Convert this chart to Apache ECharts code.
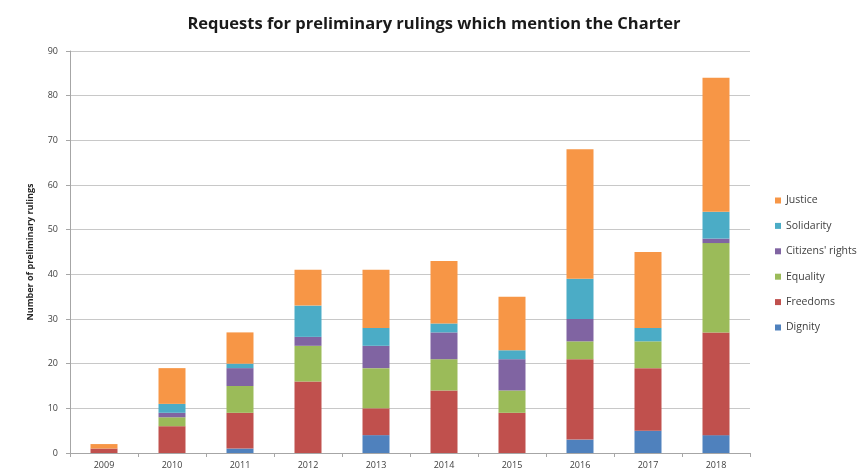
<!DOCTYPE html>
<html>
<head>
<meta charset="utf-8">
<script src="https://cdn.jsdelivr.net/npm/echarts@6/dist/echarts.min.js"></script>
<style>html,body{margin:0;padding:0;background:#fff}#c{width:868px;height:475px}</style>
</head>
<body>
<div id="c"></div>
<script>
const years = ['2009','2010','2011','2012','2013','2014','2015','2016','2017','2018'];
const dignity    = [0, 0, 1, 0, 4, 0, 0, 3, 5, 4];
const freedoms   = [1, 6, 8, 16, 6, 14, 9, 18, 14, 23];
const equality   = [0, 2, 6, 8, 9, 7, 5, 4, 6, 20];
const citizens   = [0, 1, 4, 2, 5, 6, 7, 5, 0, 1];
const solidarity = [0, 2, 1, 7, 4, 2, 2, 9, 3, 6];
const justice    = [1, 8, 7, 8, 13, 14, 12, 29, 17, 30];
const yTicks = [0, 10, 20, 30, 40, 50, 60, 70, 80, 90];

const seriesDefs = [
  ['Dignity', dignity, '#4F81BD'],
  ['Freedoms', freedoms, '#C0504D'],
  ['Equality', equality, '#9BBB59'],
  ["Citizens' rights", citizens, '#8064A2'],
  ['Solidarity', solidarity, '#4BACC6'],
  ['Justice', justice, '#F79646']
];

const chart = echarts.init(document.getElementById('c'));
chart.setOption({
  animation: false,
  backgroundColor: '#fff',
  title: {
    text: 'Requests for preliminary rulings which mention the Charter',
    left: 'center', top: 11,
    textStyle: {fontFamily: 'Open Sans', fontSize: 16.5, fontWeight: 'bold', color: '#1a1a1a'}
  },
  legend: {
    orient: 'vertical', left: 770, top: 190,
    itemWidth: 6, itemHeight: 6, itemGap: 14.4,
    data: seriesDefs.map(s => s[0]).reverse(),
    icon: 'rect',
    textStyle: {fontFamily: 'Open Sans', fontSize: 10.5, color: '#404040'}
  },
  grid: {left: 70, right: 118, top: 51, bottom: 22},
  xAxis: {
    type: 'category', data: years,
    axisLine: {lineStyle: {color: '#a6a6a6'}},
    axisTick: {show: true, length: 4, lineStyle: {color: '#a6a6a6'}},
    axisLabel: {fontFamily: 'Open Sans', fontSize: 9, color: '#404040', margin: 8}
  },
  yAxis: {
    type: 'value', min: yTicks[0], max: yTicks[yTicks.length-1], interval: 10,
    name: 'Number of preliminary rulings', nameLocation: 'middle', nameGap: 35, nameRotate: 90,
    nameTextStyle: {fontFamily: 'Open Sans', fontSize: 9, fontWeight: 'bold', color: '#262626'},
    axisLine: {show: true, lineStyle: {color: '#a6a6a6'}},
    axisTick: {show: true, length: 4, lineStyle: {color: '#a6a6a6'}},
    splitLine: {lineStyle: {color: '#c8c8c8'}},
    axisLabel: {fontFamily: 'Open Sans', fontSize: 9, color: '#404040', margin: 12}
  },
  series: seriesDefs.map(s => ({
    name: s[0], type: 'bar', stack: 'total', data: s[1],
    barWidth: 27, itemStyle: {color: s[2]}
  }))
});
</script>
</body>
</html>
